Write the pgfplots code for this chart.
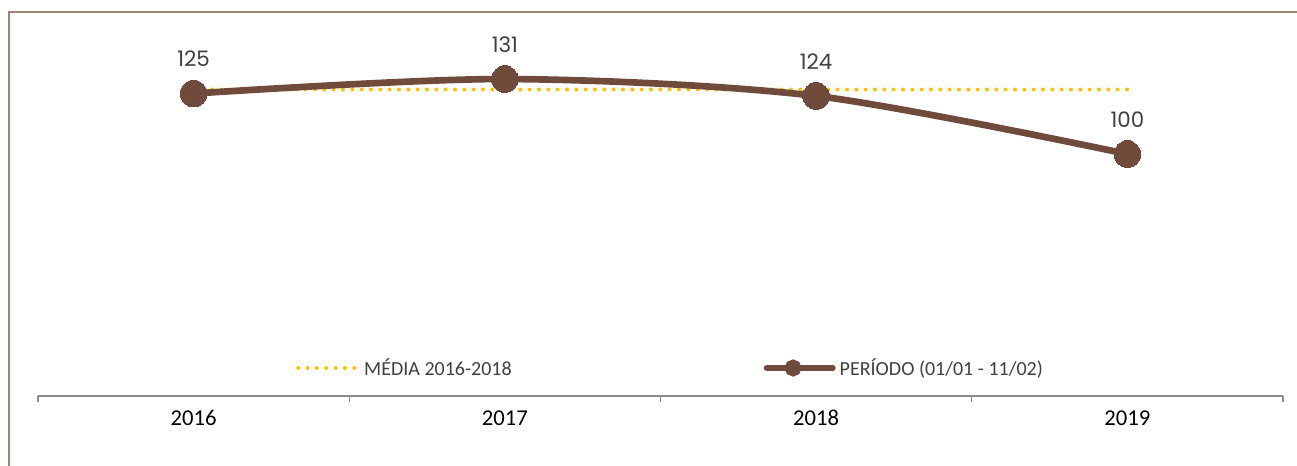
\documentclass[border=0pt]{standalone}
\usepackage{fontspec}
\setmainfont{Carlito}
\newfontfamily\labfont{Poppins}
\usepackage{pgfplots}
\pgfplotsset{compat=1.18}
\definecolor{brn}{HTML}{704B3C}
\definecolor{gld}{HTML}{FFC000}
\definecolor{frm}{HTML}{9C8478}
\definecolor{axc}{HTML}{8C8C8C}
\definecolor{lblgray}{HTML}{404040}
\definecolor{leggray}{HTML}{404040}
\pgfplotsset{
  dotleg/.style={legend image code/.code={\draw[gld, line width=3pt, line cap=round, dash pattern=on 0pt off 7pt] (0pt,0pt) -- (45pt,0pt);}},
  brnleg/.style={legend image code/.code={\draw[brn, line width=5pt, line cap=round] (-2pt,0pt) -- (47pt,0pt);
    \fill[brn] (17.5pt,0pt) circle (3.8pt);}},
}
\begin{document}
\begin{tikzpicture}
\path[use as bounding box] (0,0) rectangle (972.75pt,348.75pt);
\draw[frm, line width=0.9pt] (6.75pt,-5pt) -- (6.75pt,339.75pt) -- (980pt,339.75pt);
\begin{axis}[
  at={(28.5pt,51.75pt)}, anchor=south west,
  scale only axis, width=933.75pt, height=288pt,
  xmin=-0.5, xmax=3.5, ymin=0, ymax=158.7,
  clip=false,
  axis y line=none, axis x line=bottom,
  axis line style={axc, line width=0.8pt, -},
  xtick={0,1,2,3}, xticklabels={2016,2017,2018,2019},
  major tick length=0pt,
  minor xtick={-0.5,0.5,1.5,2.5,3.5},
  minor tick length=4.5pt, tick align=outside,
  minor tick style={axc, line width=0.8pt},
  xticklabel style={font=\fontsize{17}{17}\selectfont, text=black, anchor=base, inner sep=0pt, yshift=-21.75pt},
  /pgf/number format/assume math mode=true,
  legend columns=2,
  legend cell align=left,
  legend style={draw=none, fill=none, at={(axis description cs:0.2072,0.0729)}, anchor=west,
    inner sep=0pt, font=\fontsize{15}{15}\selectfont, text=leggray,
    /tikz/every even column/.append style={column sep=186pt},
    nodes={inner xsep=3pt, inner ysep=0pt}},
]
\addplot[gld, line width=3pt, line cap=round, dash pattern=on 0pt off 7pt, dotleg]
  coordinates {(0,126.67) (1,126.67) (2,126.67) (3,126.67)};
\addlegendentry{MÉDIA 2016-2018}
\addplot[brn, line width=5pt, smooth, tension=0.5, mark=*, mark size=10pt,
  mark options={fill=brn, draw=brn, line width=0pt},
  nodes near coords,
  every node near coord/.append style={anchor=south, inner sep=0pt, yshift=20pt,
    font=\labfont\fontsize{16}{16}\selectfont, text=lblgray},
  brnleg]
  coordinates {(0,125) (1,131) (2,124) (3,100)};
\addlegendentry{PERÍODO (01/01 - 11/02)}
\end{axis}
\end{tikzpicture}
\end{document}
